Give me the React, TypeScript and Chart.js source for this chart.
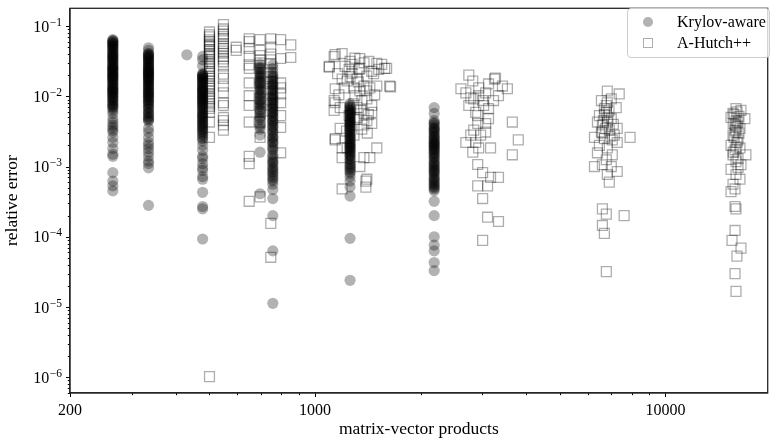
import React, { useEffect, useRef } from 'react';
import { Chart, registerables } from 'chart.js';

Chart.register(...registerables);

const FONT = "'Liberation Serif', 'Times New Roman', serif";

// ---- axis ranges and ticks ----
const X_MIN = 200;
const X_MAX = 19570;
const Y_MIN = 5.97e-7;
const Y_MAX = 0.179;
const xMajorTicks = [200, 1000, 10000];
const xTickLabels = ['200', '1000', '10000'];
const xMinorTicks = [300, 400, 500, 600, 700, 800, 900, 2000, 3000, 4000, 5000, 6000, 7000, 8000, 9000];
const yMajorTicks = [1e-6, 1e-5, 1e-4, 1e-3, 1e-2, 1e-1];
const yTickBase = '10';
const yTickExponents = ['\u22126', '\u22125', '\u22124', '\u22123', '\u22122', '\u22121'];
const yMinorMantissas = [2, 3, 4, 5, 6, 7, 8, 9];

// ---- Krylov-aware (circles): matvec count per column and errors ----
const krylovColumnsX = [265, 335, 431, 478, 697, 758, 1259, 2188];
const krylov265 = [0.064, 0.061, 0.058, 0.055, 0.052, 0.049, 0.046, 0.043, 0.04, 0.038, 0.036, 0.034, 0.032, 0.03, 0.029, 0.027, 0.026, 0.025, 0.024, 0.023, 0.022, 0.021, 0.02, 0.019, 0.018, 0.017, 0.016, 0.015, 0.014, 0.0135, 0.013, 0.0125, 0.012, 0.0115, 0.011, 0.0105, 0.01, 0.0095, 0.009, 0.0085, 0.008, 0.0075, 0.007, 0.0067, 0.0057, 0.0043, 0.0039, 0.0033, 0.0031, 0.0022, 0.0018, 0.0015, 0.0014, 0.00082, 0.00062, 0.00053, 0.00045,
  0.0625, 0.0595, 0.0565, 0.0535, 0.0505, 0.0475, 0.0445, 0.0415, 0.039, 0.037, 0.035, 0.033, 0.031, 0.028, 0.0265, 0.0245, 0.0235, 0.0215, 0.0205, 0.0195, 0.0185, 0.0175, 0.0165, 0.0155, 0.0145, 0.0128, 0.0118, 0.0108, 0.0098, 0.0088, 0.0078, 0.0072, 0.0062, 0.0048, 0.0036, 0.0026];
const krylov335 = [0.049, 0.041, 0.039, 0.037, 0.035, 0.033, 0.031, 0.03, 0.028, 0.027, 0.026, 0.024, 0.023, 0.022, 0.021, 0.02, 0.019, 0.018, 0.017, 0.016, 0.015, 0.014, 0.0135, 0.013, 0.012, 0.0115, 0.011, 0.0105, 0.01, 0.0095, 0.009, 0.0085, 0.008, 0.0075, 0.007, 0.0065, 0.006, 0.0056, 0.0052, 0.0048, 0.0044, 0.0031, 0.0022, 0.002, 0.0016, 0.0014, 0.0012, 0.00096, 0.00028,
  0.045, 0.04, 0.038, 0.036, 0.034, 0.032, 0.029, 0.0265, 0.025, 0.0235, 0.0225, 0.0215, 0.0205, 0.0195, 0.0185, 0.0175, 0.0165, 0.0155, 0.0145, 0.0128, 0.0118, 0.0108, 0.0098, 0.0088, 0.0078, 0.0068, 0.0058, 0.005, 0.0046, 0.0035, 0.0026, 0.0018, 0.0011];
const krylov431 = [0.039];
const krylov478 = [0.037, 0.033, 0.027, 0.021, 0.02, 0.019, 0.018, 0.017, 0.016, 0.015, 0.014, 0.0135, 0.013, 0.0125, 0.012, 0.0115, 0.011, 0.0105, 0.01, 0.0096, 0.0092, 0.0088, 0.0084, 0.008, 0.0076, 0.0072, 0.0068, 0.0064, 0.006, 0.0056, 0.0052, 0.0049, 0.0046, 0.0043, 0.004, 0.0037, 0.0034, 0.0031, 0.0028, 0.0025, 0.002, 0.0014, 0.0013, 0.00096, 0.00088, 0.00072, 0.00066, 0.00043, 0.00027, 0.00025, 0.000093,
  0.0205, 0.0195, 0.0185, 0.0175, 0.0165, 0.0155, 0.0145, 0.0128, 0.0118, 0.0108, 0.0098, 0.009, 0.0082, 0.0074, 0.0066, 0.0058, 0.0054, 0.005, 0.0045, 0.0041, 0.0038, 0.0035, 0.0032, 0.0029, 0.0026, 0.0023, 0.0017, 0.0011];
const krylov697 = [0.029, 0.026, 0.024, 0.022, 0.02, 0.018, 0.017, 0.016, 0.015, 0.014, 0.013, 0.012, 0.011, 0.01, 0.0092, 0.0085, 0.0078, 0.0071, 0.0065, 0.0058, 0.0052, 0.0046, 0.004, 0.0034, 0.0028, 0.0016, 0.00041,
  0.025, 0.021, 0.019, 0.0155, 0.0125, 0.0105, 0.0088, 0.0075, 0.0062, 0.0049, 0.0037];
const krylov758 = [0.028, 0.025, 0.022, 0.02, 0.018, 0.016, 0.015, 0.014, 0.013, 0.012, 0.011, 0.01, 0.0094, 0.0088, 0.0082, 0.0076, 0.0071, 0.0066, 0.0061, 0.0057, 0.0053, 0.0049, 0.0045, 0.0042, 0.0039, 0.0036, 0.0033, 0.003, 0.0027, 0.0025, 0.0023, 0.0021, 0.0019, 0.0017, 0.0015, 0.0013, 0.0012, 0.0011, 0.001, 0.0009, 0.0008, 0.0007, 0.00062, 0.00056, 0.00047, 0.00035, 0.0002, 0.000063, 0.0000113,
  0.019, 0.017, 0.0145, 0.0125, 0.0105, 0.0091, 0.0079, 0.0068, 0.0059, 0.0051, 0.0044, 0.0037, 0.0031, 0.0026, 0.0022, 0.0018, 0.0014, 0.00115, 0.00095, 0.00085, 0.00075, 0.00066];
const krylov1259 = [0.0079, 0.0074, 0.0069, 0.0065, 0.0061, 0.0058, 0.0055, 0.0052, 0.0049, 0.0046, 0.0044, 0.0042, 0.004, 0.0038, 0.0036, 0.0034, 0.0032, 0.003, 0.0028, 0.0027, 0.0025, 0.0024, 0.0022, 0.0021, 0.002, 0.0019, 0.0018, 0.0017, 0.0016, 0.0015, 0.0014, 0.0013, 0.0012, 0.0011, 0.001, 0.0009, 0.0008, 0.00072, 0.00062, 0.00051, 0.00038, 0.000095, 0.000024,
  0.0071, 0.0063, 0.0056, 0.005, 0.0045, 0.0041, 0.0037, 0.0033, 0.0029, 0.0026, 0.0023, 0.00205, 0.00185, 0.00165, 0.00145, 0.00125, 0.00105, 0.00095, 0.00085];
const krylov2188 = [0.0069, 0.0057, 0.0045, 0.0042, 0.0039, 0.0036, 0.0034, 0.0032, 0.003, 0.0028, 0.0026, 0.0024, 0.0023, 0.0022, 0.0021, 0.002, 0.0019, 0.0018, 0.0017, 0.0016, 0.0015, 0.0014, 0.0013, 0.0012, 0.0011, 0.001, 0.00092, 0.00085, 0.00078, 0.00072, 0.00066, 0.0006, 0.00055, 0.0005, 0.00045, 0.00032, 0.0002, 0.0001, 0.000076, 0.000063, 0.000043, 0.000033,
  0.0041, 0.0035, 0.0031, 0.0027, 0.0025, 0.00215, 0.00195, 0.00175, 0.00155, 0.00135, 0.00115, 0.00105, 0.00096, 0.00088, 0.00081, 0.00069, 0.00063, 0.00057, 0.00052, 0.00048];
const krylovColumns = [krylov265, krylov335, krylov431, krylov478, krylov697, krylov758, krylov1259, krylov2188];

// ---- A-Hutch++ (squares), low-budget columns ----
const hutchColumnsX = [500, 548, 596, 649, 697, 748, 798, 853];
const hutch500 = [0.0824, 0.075, 0.0702, 0.0637, 0.06, 0.056, 0.053, 0.0509, 0.0462, 0.044, 0.0406, 0.039, 0.0368, 0.0335, 0.031, 0.0294, 0.0267, 0.025, 0.0227, 0.021, 0.0194, 0.018, 0.0165, 0.015, 0.014, 0.013, 0.0119, 0.0108, 0.0098, 0.0092, 0.0085, 0.0078, 0.0072, 0.0067, 0.0059, 0.0043, 0.0026, 0.00000102];
const hutch548 = [0.105, 0.091, 0.085, 0.077, 0.071, 0.066, 0.056, 0.052, 0.048, 0.044, 0.041, 0.037, 0.034, 0.031, 0.027, 0.0206, 0.018, 0.014, 0.0112, 0.0081, 0.0074, 0.005, 0.0045, 0.0039, 0.0033];
const hutch596 = [0.05, 0.045];
const hutch649 = [0.066, 0.06, 0.048, 0.037, 0.028, 0.025, 0.0155, 0.0102, 0.0074, 0.0043, 0.0014, 0.0011, 0.00032];
const hutch697 = [0.064, 0.045, 0.038, 0.033, 0.03, 0.025, 0.0155, 0.0092, 0.006, 0.0043, 0.0026, 0.00037];
const hutch748 = [0.066, 0.05, 0.04, 0.033, 0.029, 0.022, 0.019, 0.016, 0.013, 0.011, 0.009, 0.0075, 0.0062, 0.000155, 0.000051];
const hutch798 = [0.064, 0.0345, 0.0155, 0.0132, 0.0108, 0.0081, 0.0053, 0.0036, 0.00157];
const hutch853 = [0.054, 0.0357];
const hutchColumns = [hutch500, hutch548, hutch596, hutch649, hutch697, hutch748, hutch798, hutch853];

// ---- A-Hutch++ clusters with varying matvec counts ----
const hutchBX = [1098, 1142, 1195, 1259, 1343, 1424, 1501, 1601, 1643, 1520, 1343, 1251, 1195, 1142, 1211, 1292, 1379, 1434, 1501, 1142, 1134, 1180, 1452, 1452, 1379, 1452, 1180, 1142, 1195, 1501, 1434, 1379, 1195, 1343, 1397, 1397, 1195, 1335, 1318, 1406, 1343, 1406, 1318, 1379, 1318, 1292, 1235, 1134, 1098, 1134, 1142, 1406, 1581, 1633, 1275, 1235, 1300, 1361, 1251, 1406, 1275, 1218, 1452, 1550, 1300, 1380, 1260, 1330, 1400, 1290, 1350, 1420, 1300, 1360, 1410, 1230, 1480, 1470, 1160, 1170];
const hutchBY = [0.0259, 0.0393, 0.0406, 0.0314, 0.0345, 0.0314, 0.0294, 0.025, 0.0136, 0.0242, 0.025, 0.0242, 0.0176, 0.0128, 0.0132, 0.0132, 0.014, 0.0132, 0.014, 0.0081, 0.0063, 0.0069, 0.0074, 0.0059, 0.0039, 0.0041, 0.0035, 0.0024, 0.00184, 0.00184, 0.00134, 0.00134, 0.00134, 0.001, 0.00062, 0.00051, 0.00048, 0.0242, 0.0176, 0.0194, 0.0119, 0.0092, 0.0069, 0.0057, 0.005, 0.0028, 0.00184, 0.0368, 0.0267, 0.0087, 0.0025, 0.00066, 0.025, 0.014, 0.0213, 0.0165, 0.0102, 0.0087, 0.0053, 0.0045, 0.0285, 0.0267, 0.0227, 0.0285, 0.035, 0.03, 0.019, 0.016, 0.012, 0.0078, 0.0064, 0.0055, 0.0047, 0.0034, 0.003, 0.0032, 0.0105, 0.021, 0.021, 0.0105];
const hutchCX = [2747, 3273, 3252, 2819, 2608, 3539, 2694, 2931, 3068, 3338, 2838, 3008, 2747, 3127, 2874, 3656, 2912, 3068, 2838, 2783, 3068, 2694, 2931, 3169, 2819, 3802, 3656, 2912, 3008, 3169, 3338, 2912, 3107, 3008, 3107, 3338, 3008, 2931, 3028, 2912, 3127, 2969, 2874, 3231, 2783, 3127, 3426];
const hutchCY = [0.02, 0.0182, 0.0176, 0.0165, 0.0128, 0.0128, 0.0112, 0.0132, 0.0112, 0.0102, 0.0092, 0.0087, 0.0074, 0.0067, 0.0059, 0.0043, 0.0041, 0.0041, 0.0033, 0.0028, 0.0031, 0.0022, 0.00184, 0.00184, 0.0016, 0.0024, 0.00147, 0.00107, 0.00082, 0.0007, 0.0007, 0.00053, 0.00053, 0.00035, 0.00019, 0.000165, 0.000089, 0.0102, 0.0074, 0.0053, 0.0048, 0.0028, 0.0022, 0.0087, 0.0095, 0.015, 0.014];
const hutchDX = [6823, 7379, 6564, 7004, 7235, 6478, 6780, 7004, 6606, 7283, 6271, 7925, 6693, 7049, 7283, 6478, 6823, 6395, 7049, 6780, 6271, 6606, 7004, 7283, 6823, 6914, 6606, 6780, 7621, 6606, 6693, 6780, 6780, 6823, 6564, 6914, 6693, 7142, 6395, 6823, 6700, 6900, 6650, 7100, 6750, 6600, 6950, 6850];
const hutchDY = [0.0119, 0.0108, 0.0087, 0.0092, 0.0069, 0.0053, 0.0059, 0.0048, 0.0039, 0.0035, 0.0026, 0.0026, 0.0025, 0.0024, 0.0022, 0.002, 0.00184, 0.00157, 0.00147, 0.00125, 0.001, 0.00106, 0.001, 0.00085, 0.00077, 0.0006, 0.00025, 0.00021, 0.0002, 0.000145, 0.000112, 0.0000319, 0.0074, 0.0043, 0.0031, 0.0033, 0.0067, 0.0028, 0.0043, 0.0081, 0.0055, 0.0062, 0.0045, 0.004, 0.0035, 0.003, 0.0027, 0.005];
const hutchEX = [15890, 16420, 15380, 16850, 15790, 16310, 15580, 16100, 16960, 15580, 15890, 16420, 15380, 15890, 16310, 15580, 15790, 15790, 15890, 15790, 15480, 16420, 15990, 15790, 15890, 15580, 16100, 15890, 15380, 16310, 15790, 16100, 15380, 16000, 15700, 16200, 15900, 15600, 16000, 15800, 16200, 15700, 16000, 15900, 15600, 16100];
const hutchEY = [0.0067, 0.0063, 0.005, 0.0048, 0.0039, 0.0035, 0.0028, 0.0024, 0.00147, 0.00147, 0.00117, 0.00106, 0.00091, 0.00077, 0.00066, 0.00056, 0.00048, 0.00027, 0.00025, 0.000123, 0.000089, 0.000069, 0.000053, 0.0000299, 0.0000167, 0.0057, 0.0043, 0.0031, 0.002, 0.00184, 0.00173, 0.00097, 0.00044, 0.006, 0.0055, 0.0052, 0.0045, 0.0041, 0.0037, 0.0033, 0.003, 0.0026, 0.0022, 0.0019, 0.0016, 0.0013];

type Pt = { x: number; y: number };
const fromColumns = (xs: number[], cols: number[][]): Pt[] =>
  xs.flatMap((x, i) => cols[i].map((y) => ({ x, y })));
const fromPairs = (xs: number[], ys: number[]): Pt[] => xs.map((x, i) => ({ x, y: ys[i] }));

const MAJOR_TICK = 4;
const MINOR_TICK = 2.2;

// frame + tick marks (major longer than minor), placed through the scales
const framePlugin = {
  id: 'frame',
  afterDatasetsDraw(chart: any) {
    const { ctx, chartArea: a } = chart;
    const xs = chart.scales.x;
    const ys = chart.scales.y;
    ctx.save();
    ctx.strokeStyle = '#000';
    ctx.lineWidth = 1;
    ctx.beginPath();
    xs.ticks.forEach((t: any) => {
      const px = Math.round(xs.getPixelForValue(t.value)) + 0.5;
      const len = xMajorTicks.includes(t.value) ? MAJOR_TICK : MINOR_TICK;
      ctx.moveTo(px, a.bottom);
      ctx.lineTo(px, a.bottom + len);
    });
    ys.ticks.forEach((t: any) => {
      const py = Math.round(ys.getPixelForValue(t.value)) + 0.5;
      const len = yMajorTicks.includes(t.value) ? MAJOR_TICK : MINOR_TICK;
      ctx.moveTo(a.left, py);
      ctx.lineTo(a.left - len, py);
    });
    ctx.stroke();
    ctx.strokeStyle = '#262626';
    ctx.lineWidth = 1.3;
    ctx.strokeRect(a.left, a.top, a.right - a.left, a.bottom - a.top);
    ctx.restore();
  },
};

// y tick labels as "10" with a raised exponent, placed through the y scale
const yLabelPlugin = {
  id: 'yPowerLabels',
  afterDraw(chart: any) {
    const { ctx } = chart;
    const scale = chart.scales.y;
    const rightX = scale.right - MAJOR_TICK - 4;
    ctx.save();
    ctx.fillStyle = '#000';
    ctx.textBaseline = 'alphabetic';
    ctx.textAlign = 'left';
    yMajorTicks.forEach((v, i) => {
      const py = scale.getPixelForValue(v);
      ctx.font = `11.5px ${FONT}`;
      const expW = ctx.measureText(yTickExponents[i]).width;
      ctx.font = `16px ${FONT}`;
      const baseW = ctx.measureText(yTickBase).width;
      const x0 = rightX - expW - baseW - 0.5;
      ctx.fillText(yTickBase, x0, py + 5.5);
      ctx.font = `11.5px ${FONT}`;
      ctx.fillText(yTickExponents[i], x0 + baseW + 0.5, py - 0.5);
    });
    ctx.restore();
  },
};

export default function App() {
  const canvasRef = useRef<HTMLCanvasElement | null>(null);

  useEffect(() => {
    document.body.style.margin = '0';
    const canvas = canvasRef.current;
    if (!canvas) return;

    const krylovData = fromColumns(krylovColumnsX, krylovColumns);
    const hutchData = [
      ...fromColumns(hutchColumnsX, hutchColumns),
      ...fromPairs(hutchBX, hutchBY),
      ...fromPairs(hutchCX, hutchCY),
      ...fromPairs(hutchDX, hutchDY),
      ...fromPairs(hutchEX, hutchEY),
    ];

    const yMinorTicks: number[] = [];
    for (let e = -7; e <= -1; e++) {
      for (const m of yMinorMantissas) {
        const v = m * Math.pow(10, e);
        if (v >= Y_MIN && v <= Y_MAX) yMinorTicks.push(v);
      }
    }

    const tickFont = { family: FONT, size: 16 };
    const titleFont = { family: FONT, size: 17.5 };

    const chart = new Chart(canvas, {
      type: 'scatter',
      data: {
        datasets: [
          {
            label: 'A-Hutch++',
            data: hutchData,
            pointStyle: 'rect',
            pointRadius: 7,
            backgroundColor: 'rgba(0,0,0,0)',
            borderColor: 'rgba(0,0,0,0.32)',
            borderWidth: 1.3,
            order: 0,
          },
          {
            label: 'Krylov-aware',
            data: krylovData,
            pointStyle: 'circle',
            pointRadius: 5.6,
            backgroundColor: 'rgba(0,0,0,0.3)',
            borderWidth: 0,
            order: 1,
          },
        ],
      },
      options: {
        responsive: false,
        devicePixelRatio: 1,
        animation: false,
        layout: { padding: { top: 1, right: 1, left: 0, bottom: 0 } },
        plugins: {
          legend: { display: false },
          tooltip: { enabled: false },
        },
        scales: {
          x: {
            type: 'logarithmic',
            position: 'bottom',
            min: X_MIN,
            max: X_MAX,
            afterBuildTicks: (s: any) => {
              s.ticks = [...xMajorTicks, ...xMinorTicks].sort((a, b) => a - b).map((v) => ({ value: v }));
            },
            afterFit: (s: any) => {
              s.height = 52;
              s.paddingLeft = 0;
              s.paddingRight = 0;
            },
            ticks: {
              autoSkip: false,
              maxRotation: 0,
              minRotation: 0,
              padding: 4,
              color: '#000',
              font: tickFont,
              callback: (v: any) => {
                const i = xMajorTicks.indexOf(Number(v));
                return i >= 0 ? xTickLabels[i] : '';
              },
            },
            grid: {
              display: false,
              drawOnChartArea: false,
              drawTicks: true,
              tickLength: MAJOR_TICK,
            },
            border: { display: true, color: '#262626', width: 1.3 },
            title: {
              display: true,
              text: 'matrix-vector products',
              color: '#000',
              font: titleFont,
              padding: { top: 0, bottom: 5 },
            },
          },
          y: {
            type: 'logarithmic',
            position: 'left',
            min: Y_MIN,
            max: Y_MAX,
            afterBuildTicks: (s: any) => {
              s.ticks = [...yMajorTicks, ...yMinorTicks].sort((a, b) => a - b).map((v) => ({ value: v }));
            },
            afterFit: (s: any) => {
              s.width = 70;
              s.paddingTop = 0;
              s.paddingBottom = 0;
            },
            ticks: {
              autoSkip: false,
              padding: 4,
              color: 'rgba(0,0,0,0)',
              font: tickFont,
              callback: () => '',
            },
            grid: {
              display: false,
              drawOnChartArea: false,
              drawTicks: true,
              tickLength: MAJOR_TICK,
            },
            border: { display: true, color: '#262626', width: 1.3 },
            title: {
              display: true,
              text: 'relative error',
              color: '#000',
              font: titleFont,
              padding: { top: 2, bottom: 0 },
            },
          },
        },
      },
      plugins: [framePlugin, yLabelPlugin],
    } as any);

    return () => chart.destroy();
  }, []);

  return (
    <div style={{ position: 'relative', width: 776, height: 445, overflow: 'hidden', background: '#fff' }}>
      <canvas ref={canvasRef} width={776} height={445} style={{ display: 'block' }} />
      <div
        style={{
          position: 'absolute',
          left: 627,
          top: 8,
          width: 143,
          height: 50,
          boxSizing: 'border-box',
          border: '1px solid #cccccc',
          borderRadius: 4,
          background: 'rgba(255,255,255,0.8)',
          fontFamily: FONT,
          fontSize: 16,
          color: '#000',
        }}
      >
        <div
          style={{
            position: 'absolute',
            left: 15,
            top: 8,
            width: 10,
            height: 10,
            borderRadius: '50%',
            background: 'rgba(0,0,0,0.3)',
          }}
        />
        <div style={{ position: 'absolute', left: 49, top: 4.6, lineHeight: '16px', whiteSpace: 'nowrap' }}>Krylov-aware</div>
        <div
          style={{
            position: 'absolute',
            left: 15,
            top: 29,
            width: 10,
            height: 10,
            boxSizing: 'border-box',
            border: '1.3px solid rgba(0,0,0,0.32)',
          }}
        />
        <div style={{ position: 'absolute', left: 49, top: 25.6, lineHeight: '16px', whiteSpace: 'nowrap' }}>A-Hutch++</div>
      </div>
    </div>
  );
}
